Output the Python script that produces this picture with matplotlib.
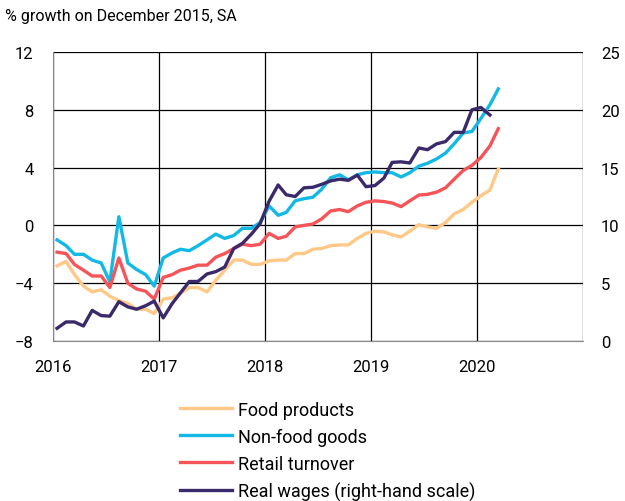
import matplotlib
matplotlib.use('Agg')
import matplotlib.pyplot as plt
import numpy as np
import datetime as dt

# monthly data, Jan 2016 - Mar 2020 (% growth on December 2015, SA)
food = [-2.8, -2.5, -3.4, -4.2, -4.6, -4.45, -4.9, -5.2, -5.4, -5.8, -5.8, -6.1,
        -5.1, -5.0, -4.7, -4.3, -4.3, -4.6, -3.8, -3.1, -2.4, -2.4, -2.7, -2.7,
        -2.45, -2.4, -2.4, -1.95, -1.95, -1.65, -1.6, -1.4, -1.35, -1.35, -0.9, -0.55,
        -0.4, -0.45, -0.65, -0.8, -0.4, 0.05, -0.1, -0.2, 0.2, 0.8, 1.1, 1.6,
        2.05, 2.45, 3.9]
non_food = [-1.0, -1.4, -2.0, -2.0, -2.4, -2.6, -3.9, 0.6, -2.6, -3.05, -3.4, -4.2,
            -2.25, -1.9, -1.65, -1.75, -1.4, -1.0, -0.6, -0.9, -0.7, -0.2, -0.2, 0.2,
            1.35, 0.7, 0.9, 1.7, 1.85, 1.95, 2.5, 3.3, 3.5, 3.15, 3.5, 3.65,
            3.7, 3.65, 3.65, 3.35, 3.65, 4.1, 4.3, 4.6, 5.0, 5.65, 6.4, 6.5,
            7.4, 8.35, 9.45]
retail = [-1.85, -1.95, -2.7, -3.1, -3.5, -3.5, -4.3, -2.25, -4.0, -4.4, -4.55, -5.1,
          -3.6, -3.4, -3.1, -2.95, -2.75, -2.75, -2.2, -1.95, -1.6, -1.3, -1.4, -1.3,
          -0.55, -0.9, -0.75, -0.1, 0.0, 0.1, 0.45, 1.0, 1.1, 0.95, 1.35, 1.6,
          1.7, 1.65, 1.55, 1.3, 1.7, 2.1, 2.15, 2.3, 2.6, 3.2, 3.8, 4.15,
          4.7, 5.5, 6.7]
# Jan 2016 - Feb 2020, right-hand scale
wages = [1.1, 1.65, 1.65, 1.3, 2.65, 2.2, 2.15, 3.4, 2.95, 2.75, 3.05, 3.45,
         2.0, 3.25, 4.15, 5.15, 5.15, 5.8, 6.0, 6.4, 8.0, 8.45, 9.25, 10.15,
         12.1, 13.5, 12.65, 12.5, 13.25, 13.3, 13.55, 13.85, 14.0, 13.9, 14.35, 13.35,
         13.45, 14.1, 15.45, 15.5, 15.4, 16.7, 16.55, 17.05, 17.25, 18.05, 18.05, 20.0,
         20.2, 19.55]

labels = ['Food products', 'Non-food goods', 'Retail turnover', 'Real wages (right-hand scale)']
colors = ['#FFC886', '#12B8E6', '#F55458', '#3B2A6B']

months = [dt.date(2016 + i // 12, i % 12 + 1, 15) for i in range(len(food))]

plt.rcParams['font.family'] = ['Roboto', 'DejaVu Sans']

fig = plt.figure(figsize=(6.25, 5.02), dpi=100)
ax = fig.add_axes([0.0848, 0.3187, 0.848, 0.5757])
ax2 = ax.twinx()

lw = 2.4
l1, = ax.plot(months, food, color=colors[0], lw=lw)
l2, = ax.plot(months, non_food, color=colors[1], lw=lw)
l3, = ax.plot(months, retail, color=colors[2], lw=lw)
l4, = ax2.plot(months[:len(wages)], wages, color=colors[3], lw=lw)

ax.set_ylim(-8, 12)
ax.set_yticks(np.arange(-8, 13, 4))
ax2.set_ylim(0, 25)
ax2.set_yticks(np.arange(0, 26, 5))
ax.set_xlim(dt.date(2016, 1, 1), dt.date(2021, 1, 1))
ax.set_xticks([dt.date(y, 1, 1) for y in range(2016, 2022)])
ax.set_xticklabels(['2016', '2017', '2018', '2019', '2020', ''])

ax.grid(True, color='black', lw=0.9)
for a in (ax, ax2):
    for s in a.spines.values():
        s.set_visible(False)
    a.tick_params(length=0, labelsize=12, colors='black')
ax.tick_params(axis='x', pad=13)
ax.tick_params(axis='y', pad=14)
ax2.tick_params(axis='y', pad=13)
ax.spines['left'].set_visible(True)
ax.spines['left'].set_color('#888888')
ax.spines['bottom'].set_visible(True)
ax.spines['bottom'].set_color('#888888')

fig.text(0.008, 0.968, '% growth on December 2015, SA', fontsize=11.5, va='center', ha='left')

fig.legend([l1, l2, l3, l4], labels, loc='upper left', bbox_to_anchor=(0.288, 0.2),
           frameon=False, fontsize=13, handlelength=2.9, handletextpad=0.3,
           labelspacing=0.5, borderaxespad=0, borderpad=0)

fig.savefig('out.png', dpi=100)
